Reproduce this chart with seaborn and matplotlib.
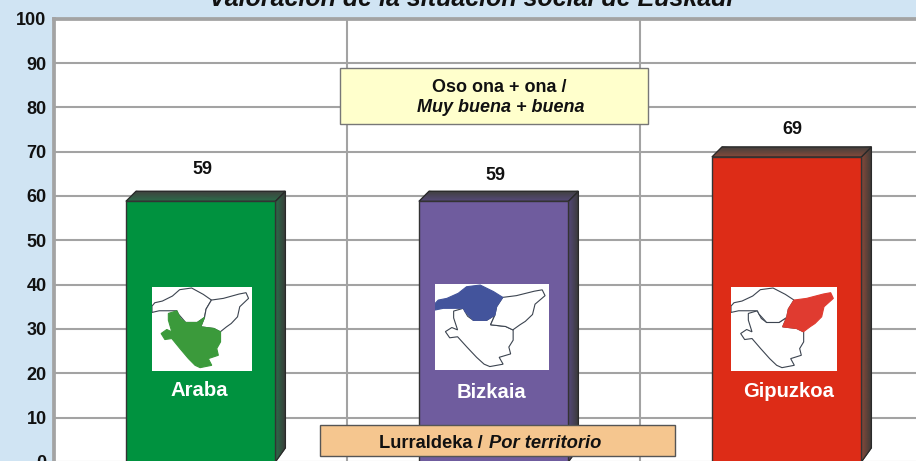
import matplotlib
matplotlib.use("Agg")
import matplotlib.pyplot as plt
import seaborn as sns
import numpy as np
from matplotlib.colors import LinearSegmentedColormap
from matplotlib.patches import Polygon, Rectangle
from matplotlib.transforms import Affine2D

territories = ["Araba", "Bizkaia", "Gipuzkoa"]
order_index = [0, 1, 2]
values = [58.8, 58.8, 68.8]
value_labels = ["59", "59", "69"]
bar_colors = ["#00923F", "#6F5C9E", "#DD2C17"]
map_colors = ["#3B9A3B", "#43549C", "#E03B30"]
side_mid = ["#2A6E4A", "#56497C", "#8A4A3A"]
yticks = list(range(0, 101, 10))
title = "Valoración de la situación social de Euskadi"

bizkaia_shape = [(273,558),(282,548),(306,543),(338,528),(361,509),(399,504),(436,523),(462,540),(445,567),(440,592),(417,607),(380,607),(357,582),(352,572),(324,572),(296,572),(273,577)]
gipuzkoa_shape = [(462,540),(500,535),(550,522),(572,518),(580,535),(552,560),(545,590),(525,610),(510,620),(490,635),(470,625),(428,620),(440,592),(445,567)]
araba_shape = [(325,580),(352,572),(357,582),(364,595),(380,607),(417,607),(440,592),(428,620),(470,625),(491,635),(491,665),(479,685),(484,705),(452,715),(463,735),(426,742),(410,735),(389,715),(362,685),(336,655),(314,658),(302,640),(320,628),(336,635),(325,600)]
shapes = [araba_shape, bizkaia_shape, gipuzkoa_shape]

W, H = 916, 461
sns.set_style("white")
plt.rcParams["font.family"] = ["Liberation Sans", "DejaVu Sans"]
fig = plt.figure(figsize=(W / 100, H / 100), dpi=100, facecolor="#D0E4F3")
px = Affine2D().scale(1 / W, -1 / H).translate(0, 1) + fig.transFigure

left, right, top, bottom = 54.2, 933.2, 18.7, 461.9
ax = fig.add_axes([left / W, 1 - bottom / H, (right - left) / W, (bottom - top) / H])
sns.barplot(x=order_index, y=values, hue=territories, palette=bar_colors, width=0.51,
            saturation=1, legend=False, dodge=False, native_scale=True, ax=ax, zorder=3,
            edgecolor="#333333", linewidth=1.0)
ax.set_xlim(-0.5, 2.5)
ax.set_ylim(0, 100)
ax.set_yticks(yticks)
ax.set_xticks([0.5, 1.5])
ax.set_xticklabels([])
ax.set_xlabel("")
ax.set_ylabel("")
ax.grid(True, color="#A3A3A3", lw=1.5, zorder=0)
ax.set_axisbelow(True)
ax.tick_params(axis="both", length=0)
ax.tick_params(axis="y", pad=5.5)
for lab in ax.get_yticklabels():
    lab.set_fontsize(13)
    lab.set_fontweight("bold")
    lab.set_color("#111111")
for side in ("top", "left"):
    ax.spines[side].set_color("#A3A3A3")
    ax.spines[side].set_linewidth(2.7)
for side in ("right", "bottom"):
    ax.spines[side].set_visible(False)

# fake 3D depth of each bar
dx = 10 / ((right - left) / 3)
dy_top = 10 / ((bottom - top) / 100)
dy_bot = 14 / ((bottom - top) / 100)
half = 0.51 / 2
for i, v in enumerate(values):
    xl, xr = i - half, i + half
    cm_side = LinearSegmentedColormap.from_list("s", [side_mid[i], "#3A3A38"])
    cm_top = LinearSegmentedColormap.from_list("t", [side_mid[i], "#3F3F3D"])
    X = np.array([[xr, xr + dx], [xr, xr + dx]])
    Y = np.array([[0, dy_bot], [v, v + dy_top]])
    ax.pcolormesh(X, Y, np.array([[0, 1], [0, 1]]), cmap=cm_side, shading="gouraud", zorder=2.5)
    X = np.array([[xl, xr], [xl + dx, xr + dx]])
    Y = np.array([[v, v], [v + dy_top, v + dy_top]])
    ax.pcolormesh(X, Y, np.array([[0, 0], [1, 1]]), cmap=cm_top, shading="gouraud", zorder=2.5)
    ax.add_patch(Polygon([(xr, 0), (xr + dx, dy_bot), (xr + dx, v + dy_top), (xr, v)],
                         fc="none", ec="#2A2A2A", lw=0.9, zorder=2.6))
    ax.add_patch(Polygon([(xl, v), (xl + dx, v + dy_top), (xr + dx, v + dy_top), (xr, v)],
                         fc="none", ec="#2A2A2A", lw=0.9, zorder=2.6))
ax.set_xlim(-0.5, 2.5)
ax.set_ylim(0, 100)

# value labels
label_offsets = [(1.5, 31.6), (1.5, 25.6), (5.5, 27.5)]
for i, v in enumerate(values):
    ax.annotate(value_labels[i], (i, v), xytext=label_offsets[i], textcoords="offset pixels",
                ha="center", va="center", fontsize=13, fontweight="bold", color="#111111", zorder=6)

# map insets
inset_boxes = [(152, 287, 100, 84), (435, 284, 114, 86), (731, 287, 106, 84)]
for i, (bx, by, bw, bh) in enumerate(inset_boxes):
    m = fig.add_axes([bx / W, 1 - (by + bh) / H, bw / W, bh / H], facecolor="white", zorder=5)
    m.set_xlim(273, 591)
    m.set_ylim(752, 501)
    m.set_xticks([])
    m.set_yticks([])
    for s in m.spines.values():
        s.set_visible(False)
    for j, shp in enumerate(shapes):
        m.add_patch(Polygon(shp, closed=True, fc=map_colors[i] if j == i else "white",
                            ec=map_colors[i] if j == i else "#3C4450", lw=0.8,
                            zorder=3 if j == i else 2))

# names on bars
name_pos = [(199.5, 390), (492, 392), (789, 391)]
for name, (nx, ny) in zip(territories, name_pos):
    fig.text(nx, ny, name, transform=px, ha="center", va="center", color="white",
             fontsize=14.6, fontweight="bold", zorder=7)

# note boxes
fig.add_artist(Rectangle((340, 68), 308, 56, transform=px, fc="#FFFFCC", ec="#777777", lw=1, zorder=8))
fig.text(499.5, 87, "Oso ona + ona /", transform=px, ha="center", va="center",
         fontsize=13, fontweight="bold", color="#111111", zorder=9)
fig.text(500.5, 107, "Muy buena + buena", transform=px, ha="center", va="center",
         fontsize=13, fontweight="bold", style="italic", color="#111111", zorder=9)

fig.add_artist(Rectangle((319.5, 425), 355, 31, transform=px, fc="#F5C68F", ec="#555555", lw=1, zorder=8))
t1 = fig.text(379, 443, "Lurraldeka / ", transform=px, ha="left", va="center",
              fontsize=13.2, fontweight="bold", color="#111111", zorder=9)
fig.canvas.draw()
t1_end = t1.get_window_extent().x1
fig.text(t1_end + 1, 443, "Por territorio", transform=px, ha="left", va="center",
         fontsize=13.2, style="italic", fontweight="bold", color="#111111", zorder=9)

# title, cut by the top edge as in the source
fig.text(471, 6, title, transform=px, ha="center", va="baseline", fontsize=18,
         fontweight="bold", style="italic", color="#111111", zorder=9)

fig.savefig("out.png", dpi=100, facecolor=fig.get_facecolor())
